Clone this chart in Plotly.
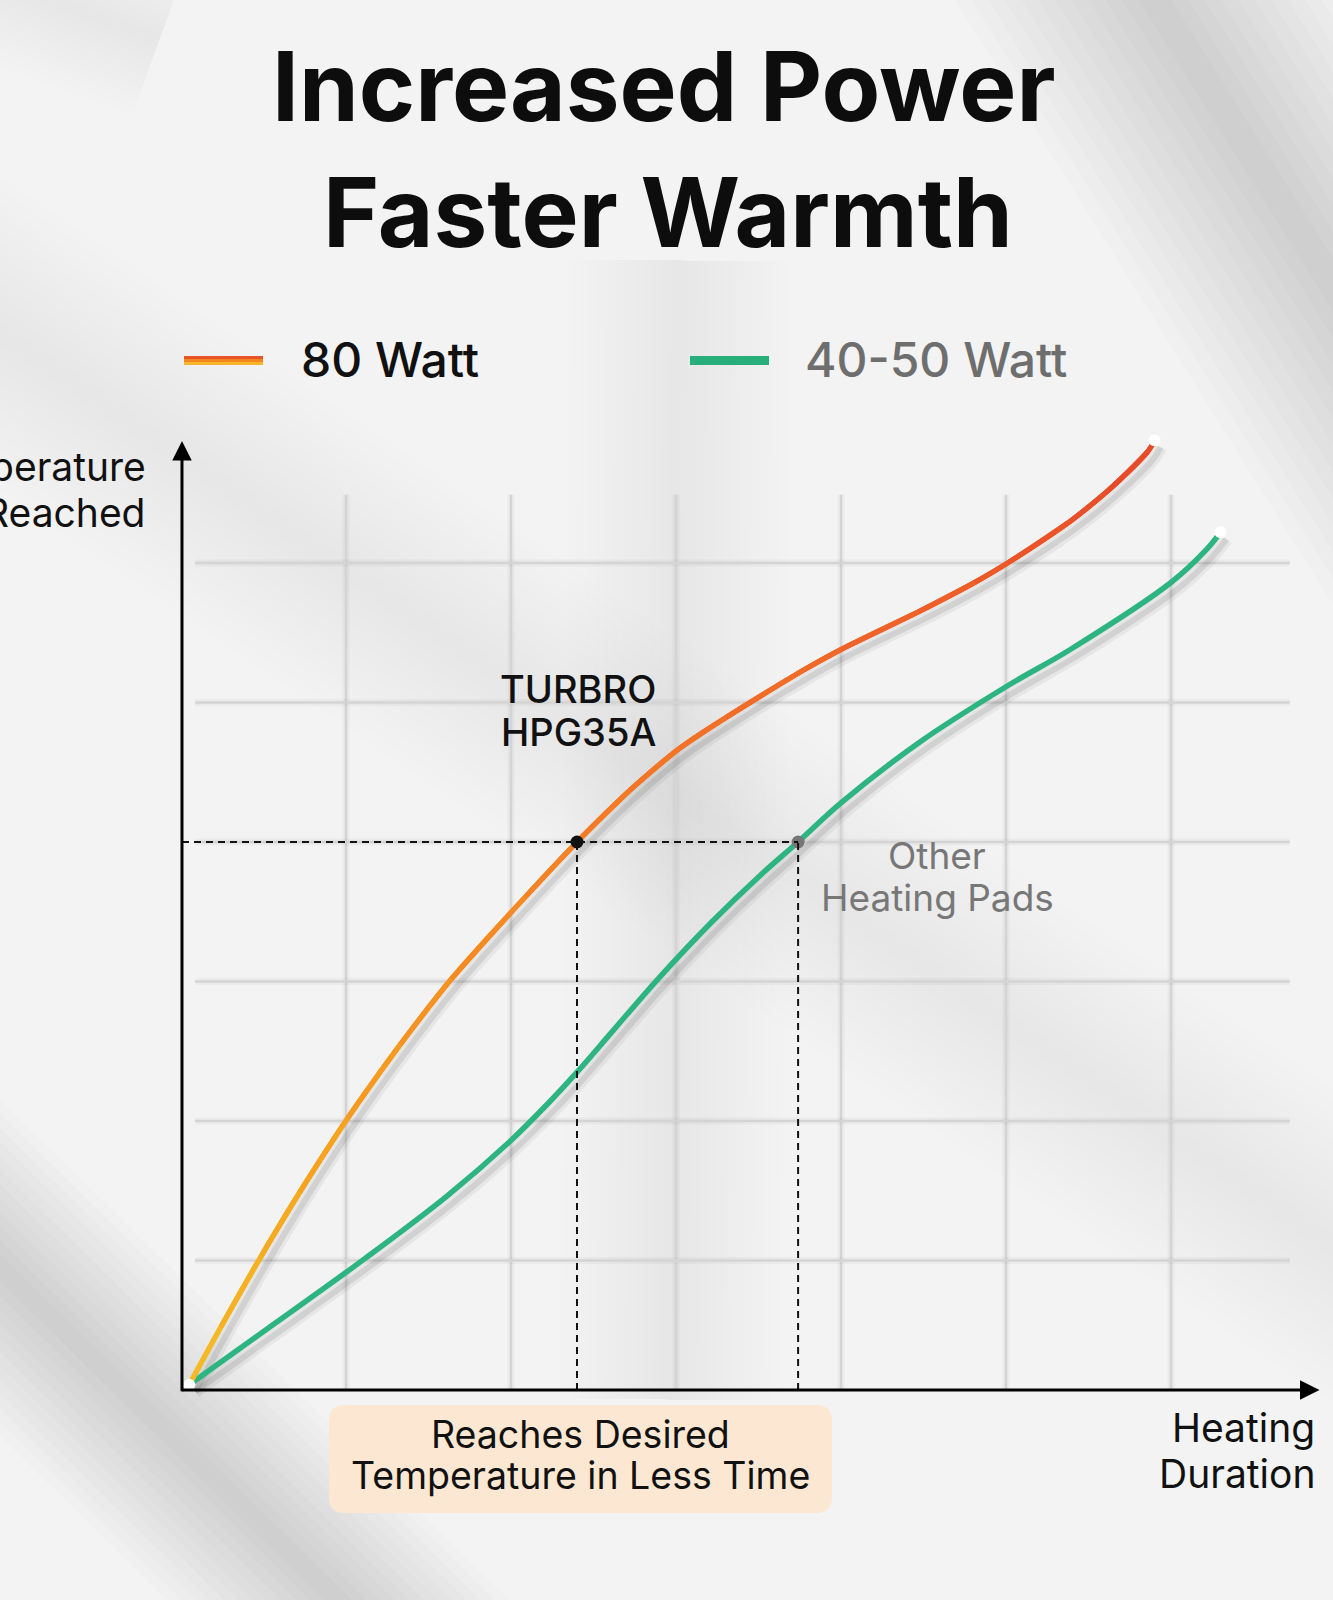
import plotly.graph_objects as go
from plotly.colors import sample_colorscale

# values, in grid cells (1 = one cell of the grid)
watt80_x = [0.05, 0.24, 0.49, 0.72, 1.01, 1.33, 1.64, 2.09, 2.40, 2.72, 3.02, 3.30, 3.77, 4.00, 4.47, 4.81, 5.01, 5.39, 5.62, 5.86, 5.90]
watt80_y = [0.11, 0.52, 1.04, 1.49, 2.02, 2.55, 3.02, 3.61, 4.00, 4.37, 4.67, 4.89, 5.23, 5.38, 5.65, 5.86, 6.00, 6.30, 6.52, 6.80, 6.88]
watt45_x = [0.05, 0.57, 1.11, 1.61, 1.99, 2.22, 2.40, 2.62, 2.90, 3.22, 3.51, 3.74, 4.00, 4.47, 5.01, 5.39, 6.00, 6.21, 6.30]
watt45_y = [0.11, 0.55, 1.01, 1.46, 1.85, 2.12, 2.35, 2.65, 3.03, 3.43, 3.76, 4.00, 4.28, 4.71, 5.12, 5.38, 5.86, 6.09, 6.22]

target_temp = 4.0
turbro_time = 2.40
other_time = 3.74
grid_x = [1, 2, 3, 4, 5, 6]
grid_y = [1, 2, 3, 4, 5, 6]

W, H = 1333, 1600
FONT = "Inter"

# how the grid sits on the page (pixels)
X0, XU = 181, 165
Y0, YU = 1400, 139.5
axis_x = 0.006
axis_y = 0.072
grid_top = 6.49
grid_left, grid_right = 0.085, 6.72
arrow_x_end = 6.90
arrow_y_end = 6.875


def px(x):
    return x / W


def py(y):
    return 1 - y / H


fig = go.Figure()
shapes = []


# soft background shadows: many thin translucent layers
def band(x0, y0, x1, y1, width, alpha, steps=12):
    for k in range(steps):
        shapes.append(dict(type="line", xref="paper", yref="paper",
                           x0=px(x0), y0=py(y0), x1=px(x1), y1=py(y1),
                           line=dict(color="rgba(0,0,0,%.4f)" % (alpha / steps),
                                     width=width * (1 - k / steps)),
                           layer="below"))


band(-150, 230, 1500, 1360, 260, 0.065)
band(680, 260, 670, 1400, 220, 0.05)
band(-120, 1150, 440, 1700, 240, 0.15)
band(1080, -120, 1480, 520, 340, 0.16)
band(-60, -40, 160, 40, 160, 0.05)

# grid
for gx in grid_x:
    shapes.append(dict(type="line", xref="x", yref="y", x0=gx, x1=gx, y0=axis_y, y1=grid_top,
                       line=dict(color="rgba(0,0,0,0.03)", width=7), layer="below"))
    shapes.append(dict(type="line", xref="x", yref="y", x0=gx, x1=gx, y0=axis_y, y1=grid_top,
                       line=dict(color="#d4d4d4", width=2.5), layer="below"))
for gy in grid_y:
    shapes.append(dict(type="line", xref="x", yref="y", x0=grid_left, x1=grid_right, y0=gy, y1=gy,
                       line=dict(color="rgba(0,0,0,0.03)", width=7), layer="below"))
    shapes.append(dict(type="line", xref="x", yref="y", x0=grid_left, x1=grid_right, y0=gy, y1=gy,
                       line=dict(color="#d4d4d4", width=2.5), layer="below"))

# dashed guides
dash = dict(color="#111111", width=2, dash="7px,5px")
shapes.append(dict(type="line", xref="x", yref="y", x0=axis_x, x1=other_time, y0=target_temp, y1=target_temp, line=dash))
shapes.append(dict(type="line", xref="x", yref="y", x0=turbro_time, x1=turbro_time, y0=axis_y, y1=target_temp, line=dash))
shapes.append(dict(type="line", xref="x", yref="y", x0=other_time, x1=other_time, y0=axis_y, y1=target_temp, line=dash))

# rounded box under x axis
bx0, by0, bx1, by1, r = 329, 1405, 832, 1513, 16
box = ("M {a},{b} L {c},{b} Q {d},{b} {d},{e} L {d},{f} Q {d},{g} {c},{g} "
       "L {a},{g} Q {h},{g} {h},{f} L {h},{e} Q {h},{b} {a},{b} Z").format(
    a=px(bx0 + r), b=py(by0), c=px(bx1 - r), d=px(bx1), e=py(by0 + r),
    f=py(by1 - r), g=py(by1), h=px(bx0))
shapes.append(dict(type="path", xref="paper", yref="paper", path=box,
                   fillcolor="#fce8d2", line=dict(width=0), layer="below"))

# legend swatches
for i, c in enumerate(["#e8532a", "#f3861f", "#f6b52a"]):
    shapes.append(dict(type="rect", xref="paper", yref="paper",
                       x0=px(184), x1=px(263), y0=py(356 + i * 3), y1=py(359 + i * 3),
                       fillcolor=c, line=dict(width=0)))
shapes.append(dict(type="rect", xref="paper", yref="paper",
                   x0=px(690), x1=px(769), y0=py(356), y1=py(365),
                   fillcolor="#27ae7b", line=dict(width=0)))

# curve shadows
sdx, sdy = 6 / XU, -7 / YU
for xs, ys in ((watt80_x, watt80_y), (watt45_x, watt45_y)):
    fig.add_trace(go.Scatter(x=[v + sdx for v in xs], y=[v + sdy for v in ys], mode="lines",
                             line=dict(color="rgba(0,0,0,0.05)", width=13, shape="spline"),
                             hoverinfo="skip", showlegend=False))
    fig.add_trace(go.Scatter(x=[v + sdx for v in xs], y=[v + sdy for v in ys], mode="lines",
                             line=dict(color="rgba(0,0,0,0.09)", width=6, shape="spline"),
                             hoverinfo="skip", showlegend=False))

# green curve
fig.add_trace(go.Scatter(x=watt45_x, y=watt45_y, mode="lines",
                         line=dict(color="#2db481", width=5.5, shape="spline"),
                         name="40-50 Watt", showlegend=False))

# orange curve, coloured along its length; each piece is a spline through
# its neighbours so the joins stay smooth
scale = [[0, "#f3c52a"], [0.3, "#f7a51f"], [0.55, "#f58a25"], [0.8, "#f0682a"], [1, "#e84a28"]]
top = max(watt80_y)
n = len(watt80_x)
for i in range(n - 1):
    lo, hi = max(i - 1, 0), min(i + 3, n)
    frac = (watt80_y[i] + watt80_y[i + 1]) / 2 / top
    col = sample_colorscale(scale, [frac])[0]
    fig.add_trace(go.Scatter(x=watt80_x[lo:hi], y=watt80_y[lo:hi], mode="lines",
                             line=dict(color=col, width=5, shape="spline"),
                             name="80 Watt", showlegend=False))

# end points
fig.add_trace(go.Scatter(x=[watt80_x[0], watt80_x[-1], watt45_x[-1]],
                         y=[watt80_y[0], watt80_y[-1], watt45_y[-1]], mode="markers",
                         marker=dict(color="white", size=12), hoverinfo="skip", showlegend=False))
fig.add_trace(go.Scatter(x=[turbro_time], y=[target_temp], mode="markers",
                         marker=dict(color="#111111", size=13), showlegend=False))
fig.add_trace(go.Scatter(x=[other_time], y=[target_temp], mode="markers",
                         marker=dict(color="#777777", size=13), showlegend=False))

ann = []


def text(t, x, y, size, color="#111111", anchor="center", weight=400):
    ann.append(dict(text=t, x=px(x), y=py(y), xref="paper", yref="paper",
                    xanchor=anchor, yanchor="middle", showarrow=False,
                    font=dict(family=FONT, size=size, color=color, weight=weight)))


text("Increased Power", 664, 86, 96, "#0d0d0d", weight=700)
text("Faster Warmth", 668, 212, 96, "#0d0d0d", weight=700)
text("80 Watt", 299, 359, 48, "#111111", "left", 500)
text("40-50 Watt", 803, 359, 48, "#6e6e6e", "left", 500)
text("Temperature", 148, 466, 39, anchor="right")
text("Reached", 148, 512, 39, anchor="right")
text("TURBRO", 578, 689, 38, weight=500)
text("HPG35A", 578, 732, 38, weight=500)
text("Other", 937, 855, 37, "#777777")
text("Heating Pads", 937, 897, 37, "#777777")
text("Reaches Desired", 580, 1434, 37.5)
text("Temperature in Less Time", 580, 1475, 37.5)
text("Heating", 1317, 1427, 39, anchor="right")
text("Duration", 1317, 1473, 39, anchor="right")

# axes with arrow heads
ann.append(dict(x=axis_x, y=arrow_y_end, ax=axis_x, ay=axis_y - 0.02, xref="x", yref="y",
                axref="x", ayref="y", text="", showarrow=True, arrowhead=2,
                arrowsize=1.3, arrowwidth=3, arrowcolor="#000000", standoff=0))
ann.append(dict(x=arrow_x_end, y=axis_y, ax=axis_x - 0.01, ay=axis_y, xref="x", yref="y",
                axref="x", ayref="y", text="", showarrow=True, arrowhead=2,
                arrowsize=1.3, arrowwidth=3, arrowcolor="#000000", standoff=0))

fig.update_layout(
    width=W, height=H,
    margin=dict(l=0, r=0, t=0, b=0),
    paper_bgcolor="#f3f3f3", plot_bgcolor="#f3f3f3",
    xaxis=dict(range=[-X0 / XU, (W - X0) / XU], visible=False, fixedrange=True),
    yaxis=dict(range=[(Y0 - H) / YU, Y0 / YU], visible=False, fixedrange=True),
    shapes=shapes, annotations=ann, showlegend=False,
    font=dict(family=FONT),
)

fig.write_html("out.html", config={"displayModeBar": False},
               post_script="document.body.style.margin='0px';")
